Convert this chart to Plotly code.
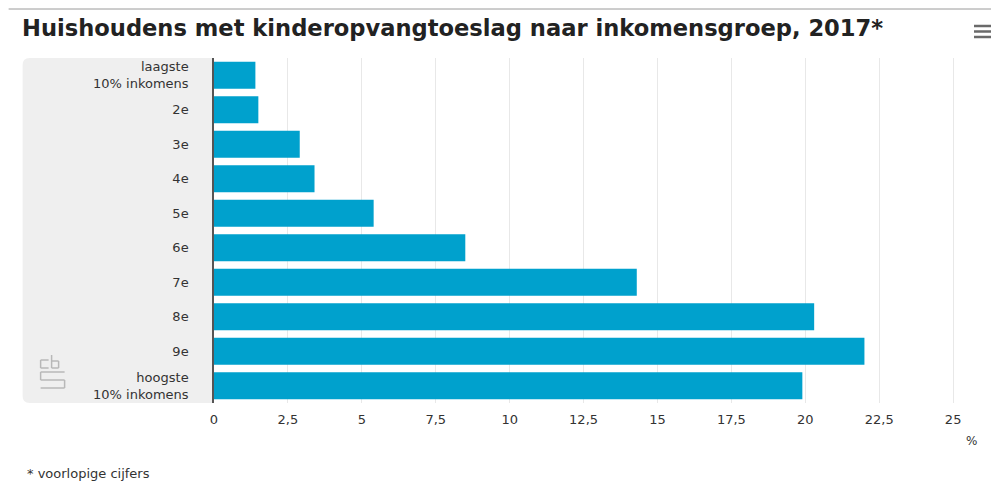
import plotly.graph_objects as go

categories = ["laagste<br>10% inkomens", "2e", "3e", "4e", "5e", "6e", "7e", "8e", "9e", "hoogste<br>10% inkomens"]
values = [1.4, 1.5, 2.9, 3.4, 5.4, 8.5, 14.3, 20.3, 22.0, 19.9]
tick_vals = [0, 2.5, 5, 7.5, 10, 12.5, 15, 17.5, 20, 22.5, 25]
tick_text = ["0", "2,5", "5", "7,5", "10", "12,5", "15", "17,5", "20", "22,5", "25"]

O = 8  # page body margin of the html page
W, H = 999 - O, 482 - O
ML, MR, MT, MB = 213.5 - O, 37, 58 - O, 79
PW, PH = W - ML - MR, H - MT - MB
FONT = "DejaVu Sans, Verdana, sans-serif"


def px(x):
    return (x - O - ML) / PW


def py(y):
    return 1 - (y - O - MT) / PH


fig = go.Figure(go.Bar(
    y=categories, x=values, orientation="h",
    marker=dict(color="#00a1cd", line=dict(width=0)),
    width=0.78, hoverinfo="x+y",
))

# rounded grey label panel
x0, x1, y0, y1 = px(22), px(213), py(403), py(58)
rx, ry = 7 / PW, 7 / PH
panel = (f"M {x1},{y1} L {x0+rx},{y1} Q {x0},{y1} {x0},{y1-ry} "
         f"L {x0},{y0+ry} Q {x0},{y0} {x0+rx},{y0} L {x1},{y0} Z")
shapes = [
    dict(type="path", xref="paper", yref="paper", path=panel,
         fillcolor="#efefef", line=dict(width=0), layer="below"),
    dict(type="line", xref="paper", yref="paper", x0=px(8), x1=px(999), y0=py(9), y1=py(9),
         line=dict(color="#9a9a9a", width=1)),
]
# hamburger menu
for yy in (26, 31.5, 37):
    shapes.append(dict(type="line", xref="paper", yref="paper", x0=px(974), x1=px(997), y0=py(yy), y1=py(yy),
                       line=dict(color="#6a6a6a", width=2.5)))
# cbs logo (approximate outline)
logo_color = "#b8b8b8"
for (a, b, c, d) in [(40, 360, 48, 360), (40, 360, 40, 368), (40, 368, 48, 368),
                     (51, 355, 51, 368), (51, 361, 58, 361), (58, 361, 58, 368), (51, 368, 58, 368)]:
    shapes.append(dict(type="line", xref="paper", yref="paper", x0=px(a), x1=px(c), y0=py(b), y1=py(d),
                       line=dict(color=logo_color, width=1.5)))
for (a, b, c, d) in [(40, 372, 64, 372), (40, 372, 40, 380), (40, 380, 64, 380), (64, 380, 64, 388),
                     (40, 388, 64, 388)]:
    shapes.append(dict(type="line", xref="paper", yref="paper", x0=px(a), x1=px(c), y0=py(b), y1=py(d),
                       line=dict(color=logo_color, width=1.5)))

fig.update_layout(
    width=W, height=H,
    margin=dict(l=ML, r=MR, t=MT, b=MB),
    paper_bgcolor="white", plot_bgcolor="rgba(0,0,0,0)",
    font=dict(family=FONT, color="#333333"),
    showlegend=False,
    bargap=0.22,
    title=dict(text="<b>Huishoudens met kinderopvangtoeslag naar inkomensgroep, 2017*</b>",
               x=(22 - O) / W, xanchor="left", y=1 - (28 - O) / H, yanchor="middle",
               font=dict(size=22.6, color="#222222", family=FONT)),
    xaxis=dict(range=[0, 25.3], tickvals=tick_vals, ticktext=tick_text, showgrid=True,
               gridcolor="#e8e8e8", gridwidth=1, zeroline=False, showline=False,
               tickfont=dict(size=13, color="#333333"), ticks="", ticklabelstandoff=7, fixedrange=True),
    yaxis=dict(autorange="reversed", showline=True, linecolor="#555555", linewidth=1.5,
               ticks="", tickfont=dict(size=13, color="#333333"), ticklabelstandoff=21, fixedrange=True),
    shapes=shapes,
    annotations=[
        dict(text="%", xref="paper", yref="paper", x=px(972), y=py(441), xanchor="center", yanchor="middle",
             showarrow=False, font=dict(size=12, color="#333333")),
        dict(text="* voorlopige cijfers", xref="paper", yref="paper", x=px(24), y=py(473), xanchor="left",
             yanchor="middle", showarrow=False, font=dict(size=13, color="#333333")),
    ],
)

fig.write_html("out.html")
